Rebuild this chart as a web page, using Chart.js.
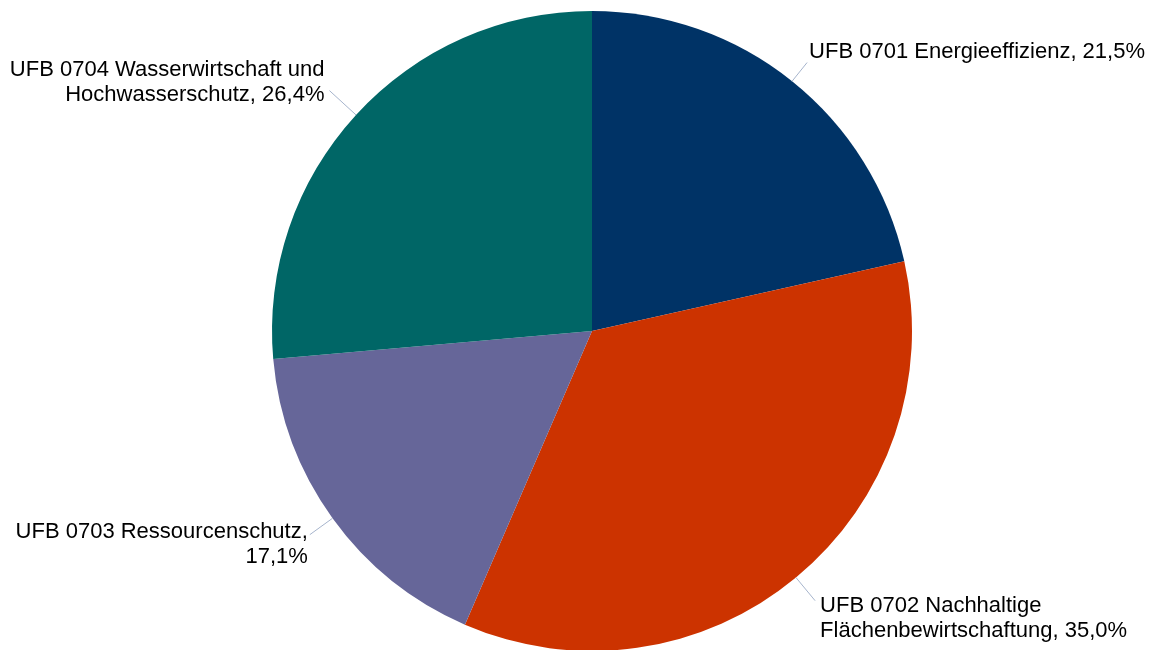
<!DOCTYPE html>
<html>
<head>
<meta charset="utf-8">
<script src="https://cdn.jsdelivr.net/npm/chart.js@4"></script>
<style>
  html, body { margin: 0; padding: 0; background: #fff; }
  #wrap { width: 1150px; height: 650px; }
</style>
</head>
<body>
<div id="wrap"><canvas id="pieChart" width="1150" height="650"></canvas></div>
<script>
// Anteile der Förderbereiche (im Uhrzeigersinn ab 12 Uhr)
const categories = [
    'UFB 0701 Energieeffizienz',
    'UFB 0702 Nachhaltige Flächenbewirtschaftung',
    'UFB 0703 Ressourcenschutz',
    'UFB 0704 Wasserwirtschaft und Hochwasserschutz'
];
const shares = [21.5, 35.0, 17.1, 26.4];
const sliceColors = ['#003366', '#CC3300', '#666699', '#006666'];

// Platzierung der Beschriftungen (Leader-Länge, Ausrichtung, Versatz, Umbruchbreite)
const labelStyle = [
    { len: 24, align: 'left',  dx: 2,  dy: -11,   wrap: 420 },
    { len: 30, align: 'left',  dx: 5,  dy: 5,     wrap: 320 },
    { len: 28, align: 'right', dx: -2, dy: -3,    wrap: 300 },
    { len: 36, align: 'right', dx: -5, dy: -20.5, wrap: 330 }
];

const FONT = '22px "Liberation Sans", Arial, sans-serif';
const LINE_H = 25;

function wrapText(ctx, text, maxWidth) {
    const words = text.split(' ');
    const lines = [];
    let line = '';
    words.forEach((w) => {
        const test = line ? line + ' ' + w : w;
        if (line && ctx.measureText(test).width > maxWidth) {
            lines.push(line);
            line = w;
        } else {
            line = test;
        }
    });
    if (line) lines.push(line);
    return lines;
}

const pieLabels = {
    id: 'pieLabels',
    afterDatasetsDraw(chart) {
        const ctx = chart.ctx;
        const meta = chart.getDatasetMeta(0);
        ctx.save();
        ctx.font = FONT;
        meta.data.forEach((arc, i) => {
            const st = labelStyle[i];
            const mid = (arc.startAngle + arc.endAngle) / 2;
            const r = arc.outerRadius;
            const x0 = arc.x + Math.cos(mid) * r;
            const y0 = arc.y + Math.sin(mid) * r;
            const x1 = arc.x + Math.cos(mid) * (r + st.len);
            const y1 = arc.y + Math.sin(mid) * (r + st.len);

            // Führungslinie
            ctx.strokeStyle = '#A6B4CC';
            ctx.lineWidth = 1;
            ctx.beginPath();
            ctx.moveTo(x0, y0);
            ctx.lineTo(x1, y1);
            ctx.stroke();

            // Beschriftung
            const pct = shares[i].toFixed(1).replace('.', ',') + '%';
            const lines = wrapText(ctx, categories[i] + ', ' + pct, st.wrap);
            ctx.fillStyle = '#000000';
            ctx.textAlign = st.align;
            ctx.textBaseline = 'middle';
            lines.forEach((ln, k) => {
                ctx.fillText(ln, x1 + st.dx, y1 + st.dy + k * LINE_H);
            });
        });
        ctx.restore();
    }
};

const ctx = document.getElementById('pieChart').getContext('2d');
const chart = new Chart(ctx, {
    type: 'pie',
    data: {
        labels: categories,
        datasets: [{
            data: shares,
            backgroundColor: sliceColors,
            borderWidth: 0,
            clip: false
        }]
    },
    options: {
        responsive: false,
        animation: false,
        radius: 320,
        layout: {
            padding: { left: 234, right: 200, top: 22, bottom: 10 }
        },
        plugins: {
            legend: { display: false },
            tooltip: { enabled: false }
        }
    },
    plugins: [pieLabels]
});
</script>
</body>
</html>
